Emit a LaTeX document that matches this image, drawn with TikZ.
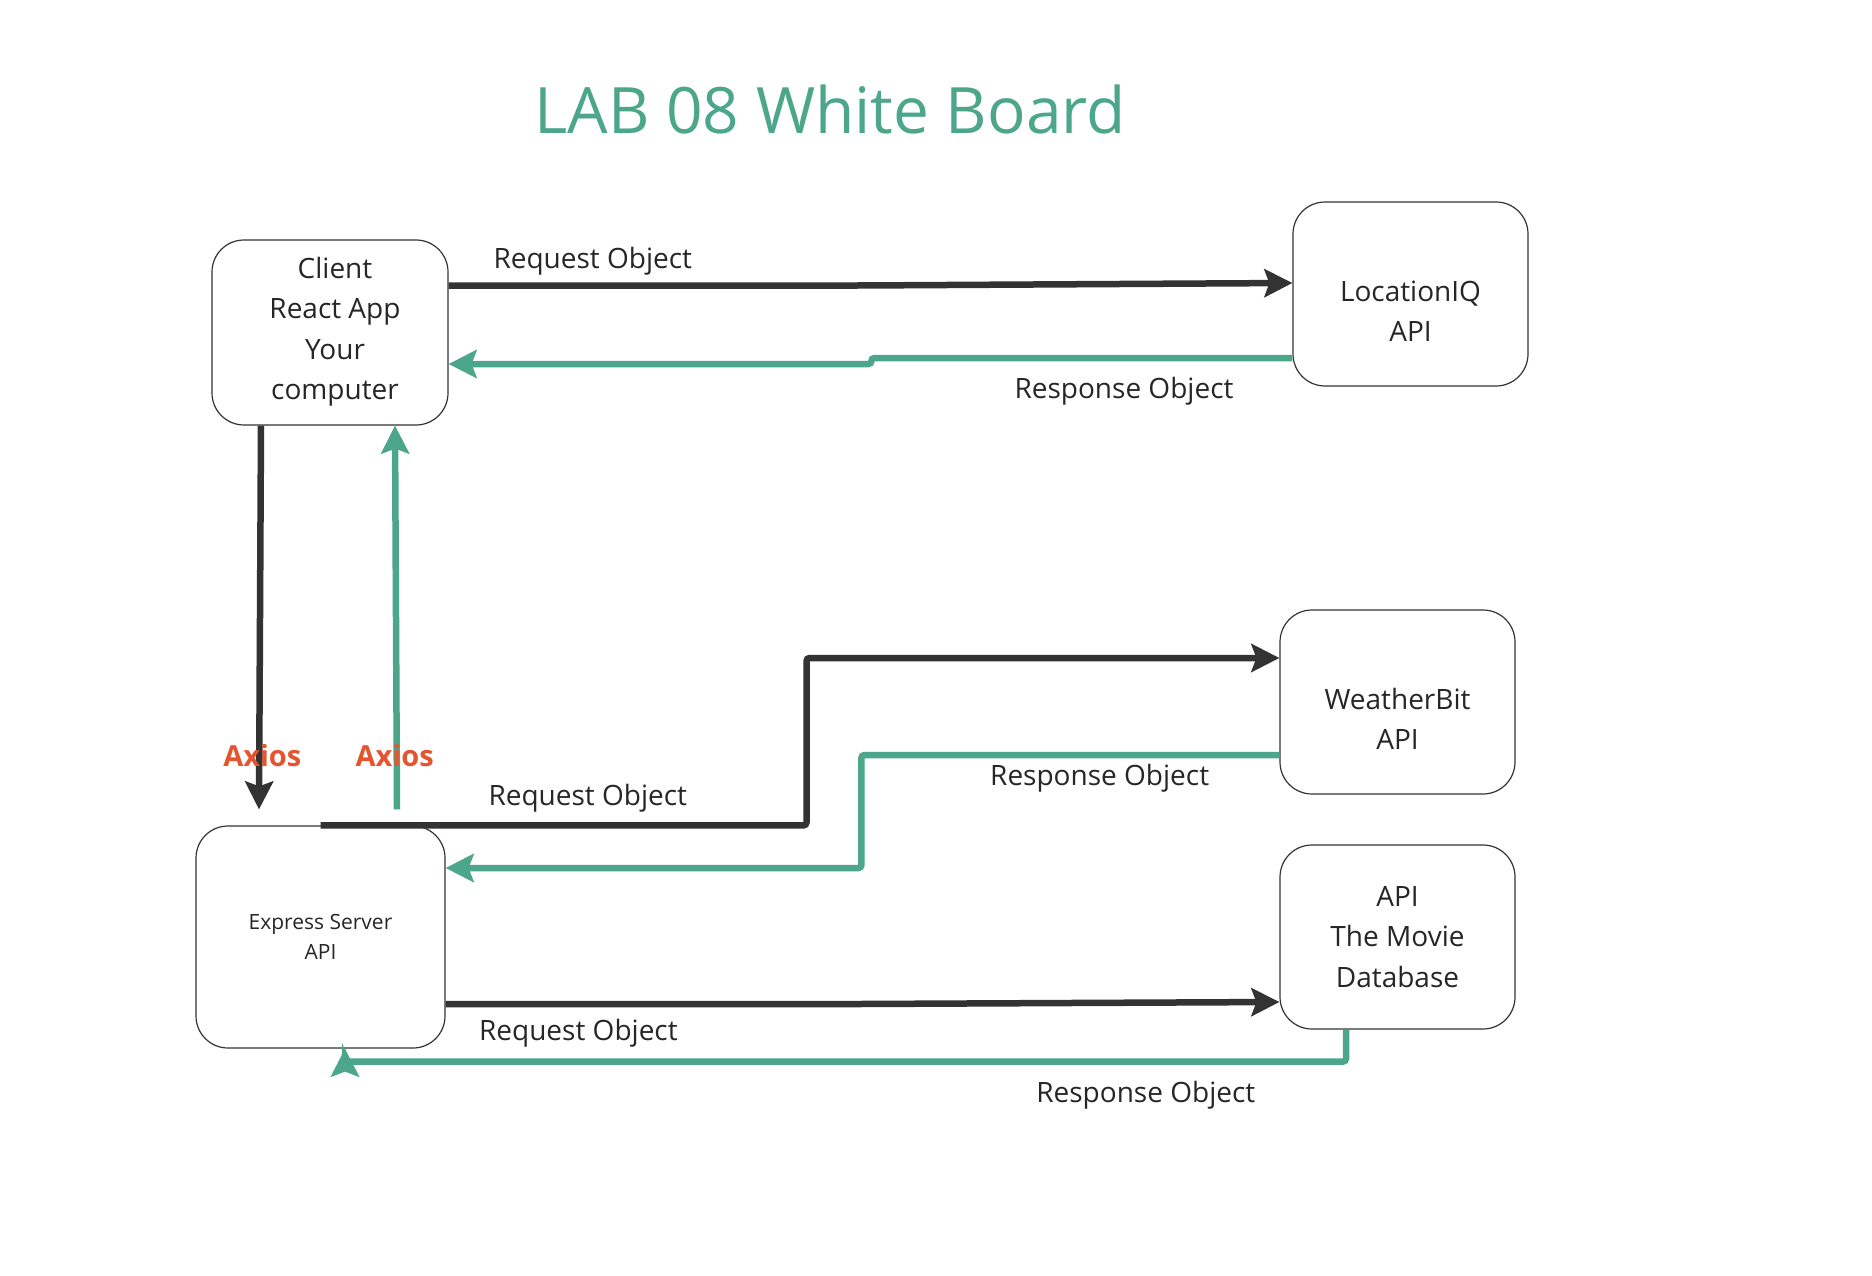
\documentclass[tikz,border=0pt]{standalone}
\usepackage{fontspec}
\setmainfont{Open Sans}
\usepackage{tikz}
\usetikzlibrary{arrows.meta}
\usetikzlibrary{positioning}

\definecolor{boardgreen}{HTML}{4CA68A}
\definecolor{linedark}{HTML}{333333}
\definecolor{axiosred}{HTML}{E4552F}

\begin{document}
\begin{tikzpicture}[x=1pt,y=-1pt,
    >={Stealth[length=28pt,width=28pt,inset=5pt]},
    box/.style={draw=linedark,line width=1.2pt,rounded corners=32pt,align=center,
        text=black!85,font=\fontsize{28}{40.5}\selectfont},
    req/.style={draw=linedark,line width=6.5pt,->,rounded corners=3pt},
    resp/.style={draw=boardgreen,line width=6.5pt,->,rounded corners=3pt},
    lbl/.style={text=black!85,font=\fontsize{28}{34}\selectfont,inner sep=0pt},
    axios/.style={text=axiosred,font=\bfseries\fontsize{29}{32}\selectfont,inner sep=0pt}]
          \useasboundingbox (0,0) rectangle (1872,1276);

          \node[text=boardgreen,font=\fontsize{64}{76}\selectfont] (title) at (830,110) {LAB 08 White Board};

          \node[box,minimum width=236pt,minimum height=185pt] (client) at (330,332.5)
                {\hspace*{10pt}Client\\\hspace*{10pt}React App\\\hspace*{10pt}Your\\\hspace*{10pt}computer\rule[-8pt]{0pt}{0pt}};
          \node[box,minimum width=235pt,minimum height=184pt] (locq) at (1410.5,294)
                {\rule{0pt}{55pt}LocationIQ\\API};
          \node[box,minimum width=235pt,minimum height=184pt] (wbit) at (1397.5,702)
                {\rule{0pt}{55pt}WeatherBit\\API};
          \node[box,minimum width=235pt,minimum height=184pt] (movie) at (1397.5,937)
                {API\\The Movie\\Database};
          \node[box,minimum width=249pt,minimum height=222pt,
                font=\fontsize{21}{30}\selectfont] (express) at (320.5,937)
                {Express Server\\API};

          % client <-> location
          \draw[req] ([yshift=47pt]client.east) -- ++(412,0)
                node[lbl,pos=0.35,above=7pt] (req1) {Request Object}
                -- ([yshift=11pt]locq.west);
          \draw[resp] ([yshift=-64pt]locq.west) -- ++(-421,0)
                node[lbl,pos=0.4,below=16pt] (resp1) {Response Object}
                |- ([yshift=-31.5pt]client.east);

          % client <-> server
          \draw[req] ([xshift=-69pt]client.south) -- ([xshift=-61.5pt,yshift=16pt]express.north)
                node[axios,pos=0.86,xshift=3pt] (ax1) {Axios};
          \draw[resp] ([xshift=76.5pt,yshift=16pt]express.north) -- ([xshift=65pt]client.south)
                node[axios,pos=0.14,xshift=-2pt] (ax2) {Axios};

          % server <-> weather
          \draw[req] (express.north) -- ++(486,0)
                node[lbl,pos=0.55,above=10pt] (req2) {Request Object}
                |- ([yshift=44pt]wbit.west);
          \draw[resp] ([yshift=-53pt]wbit.west) -- ++(-418,0)
                node[lbl,pos=0.43,below=6pt] (resp2) {Response Object}
                |- ([yshift=69pt]express.east);

          % server <-> movies
          \draw[req] ([yshift=-67pt]express.east) -- ++(415,0)
                node[lbl,pos=0.32,below=12pt] (req3) {Request Object}
                -- ([yshift=-65pt]movie.west);
          \draw[resp] ([xshift=-51.5pt]movie.south) -- ++(0,32) -| ([xshift=24.5pt]express.south)
                node[lbl,pos=0.1,below=16pt] (resp3) {Response Object};
\end{tikzpicture}
\end{document}
